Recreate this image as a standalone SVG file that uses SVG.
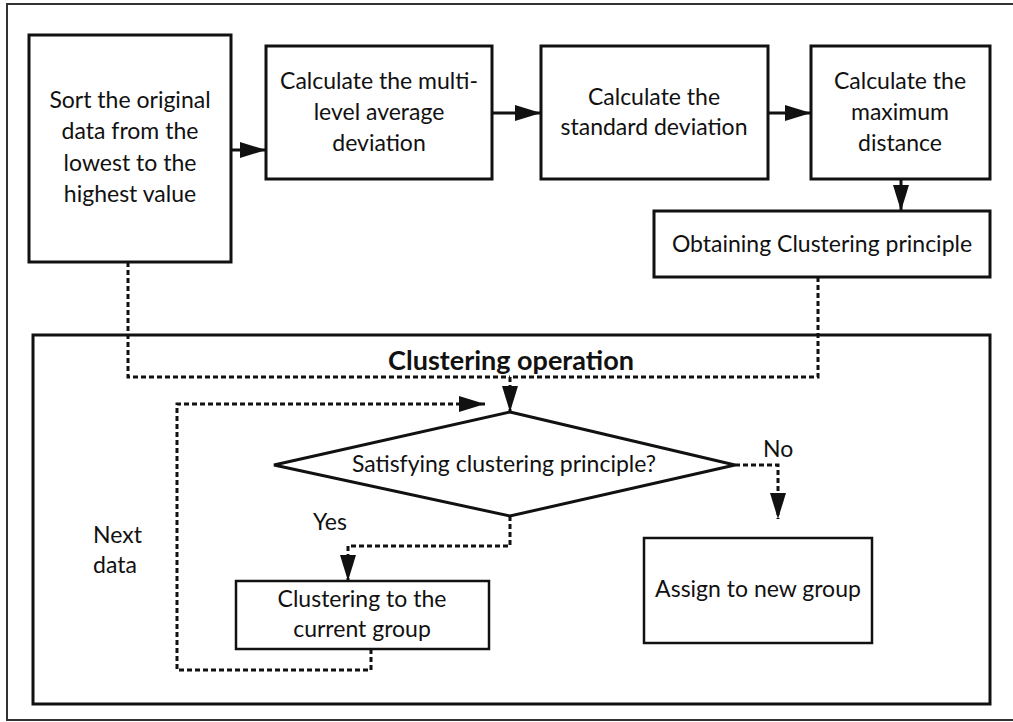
<svg xmlns="http://www.w3.org/2000/svg" width="1013" height="722" viewBox="0 0 1013 722">
  <style>
    .box { fill: #fff; stroke: #111; stroke-width: 3; }
    .thin { fill: #fff; stroke: #111; stroke-width: 2.5; }
    .solid { fill: none; stroke: #111; stroke-width: 3; }
    .dot { fill: none; stroke: #111; stroke-width: 3; stroke-dasharray: 5 3; }
    text { font-family: Lato, "Open Sans", "Liberation Sans", sans-serif; font-size: 23px; fill: #111; text-anchor: middle; }
    .title { font-weight: bold; font-size: 27px; }
    .lbl { text-anchor: start; }
  </style>
  <defs>
    <marker id="arrow" markerUnits="userSpaceOnUse" markerWidth="26" markerHeight="16" refX="26" refY="8" orient="auto">
      <path d="M0,0 L26,8 L0,16 Z" fill="#111"/>
    </marker>
  </defs>

  <!-- page frame (right edge runs off the canvas) -->
  <rect x="7" y="4" width="1020" height="716" fill="none" stroke="#333" stroke-width="2"/>

  <!-- operation container -->
  <g id="clustering-operation">
    <rect x="33" y="335" width="957" height="369" class="box"/>
    <text x="511" y="370" class="title">Clustering operation</text>
  </g>

  <g id="sort">
    <rect x="29" y="35" width="202" height="227" class="box"/>
    <text x="130" y="108">Sort the original</text>
    <text x="130" y="139">data from the</text>
    <text x="130" y="171">lowest to the</text>
    <text x="130" y="202">highest value</text>
  </g>

  <g id="multilevel">
    <rect x="266" y="46" width="226" height="133" class="box"/>
    <text x="379" y="89">Calculate the multi-</text>
    <text x="379" y="120">level average</text>
    <text x="379" y="151">deviation</text>
  </g>

  <g id="stddev">
    <rect x="541" y="46" width="227" height="133" class="box"/>
    <text x="654" y="105">Calculate the</text>
    <text x="654" y="135">standard deviation</text>
  </g>

  <g id="maxdist">
    <rect x="811" y="46" width="179" height="133" class="box"/>
    <text x="900" y="89">Calculate the</text>
    <text x="900" y="120">maximum</text>
    <text x="900" y="151">distance</text>
  </g>

  <g id="principle">
    <rect x="654" y="211" width="336" height="66" class="box"/>
    <text x="822" y="252">Obtaining Clustering principle</text>
  </g>

  <g id="decision">
    <polygon points="510,412 735,465 510,516 274,465" class="box"/>
    <text x="504" y="472">Satisfying clustering principle?</text>
  </g>

  <g id="current-group">
    <rect x="236" y="581" width="253" height="68" class="thin"/>
    <text x="362" y="607">Clustering to the</text>
    <text x="362" y="637">current group</text>
  </g>

  <g id="new-group">
    <rect x="644" y="538" width="228" height="105" class="thin"/>
    <text x="758" y="597">Assign to new group</text>
  </g>

  <g id="connectors">
    <line x1="231" y1="150" x2="266" y2="150" class="solid" marker-end="url(#arrow)"/>
    <line x1="492" y1="113" x2="541" y2="113" class="solid" marker-end="url(#arrow)"/>
    <line x1="768" y1="113" x2="811" y2="113" class="solid" marker-end="url(#arrow)"/>
    <line x1="901" y1="179" x2="901" y2="211" class="solid" marker-end="url(#arrow)"/>

    <polyline points="128,262 128,377 510,377" class="dot"/>
    <polyline points="818,277 818,377 510,377" class="dot"/>
    <line x1="510" y1="377" x2="510" y2="412" class="dot" marker-end="url(#arrow)"/>

    <polyline points="510,516 510,546 348,546 348,581" class="dot" marker-end="url(#arrow)"/>
    <polyline points="735,465 778,465 778,519" class="dot" marker-end="url(#arrow)"/>
    <polyline points="371,649 371,670 177,670 177,404 485,404" class="dot" marker-end="url(#arrow)"/>

    <text x="313" y="530" class="lbl">Yes</text>
    <text x="763" y="457" class="lbl">No</text>
    <text x="93" y="543" class="lbl">Next</text>
    <text x="93" y="573" class="lbl">data</text>
  </g>
</svg>
